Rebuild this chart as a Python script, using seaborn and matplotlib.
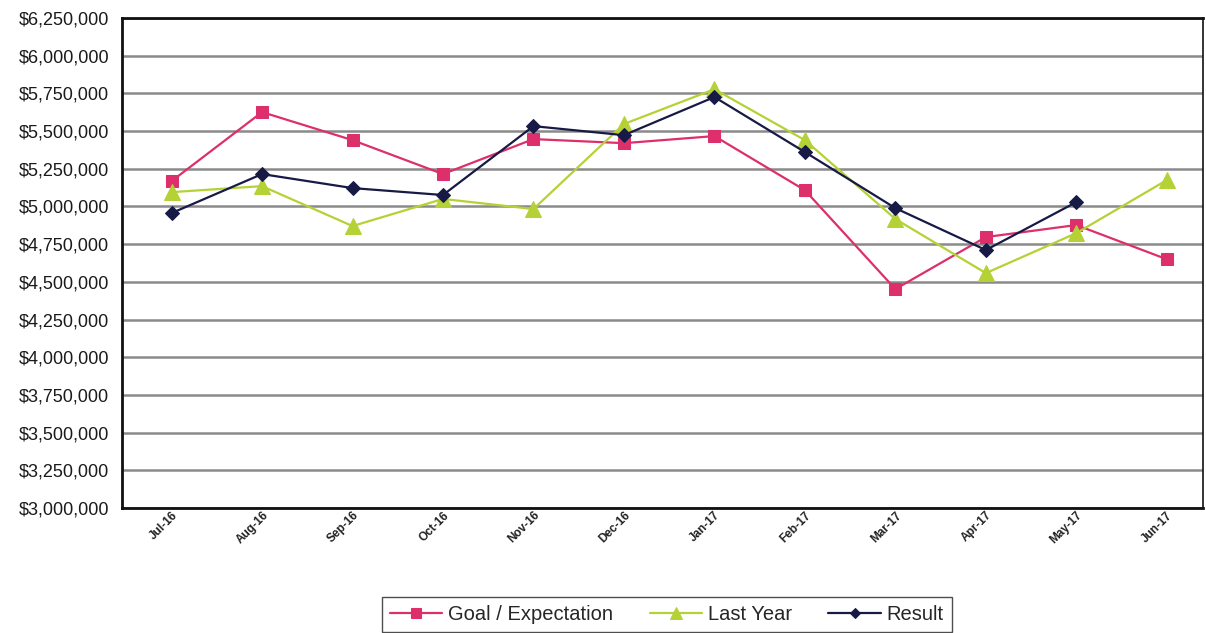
import pandas as pd
import numpy as np
import seaborn as sns
import matplotlib.pyplot as plt
import matplotlib.transforms as mtransforms
from matplotlib.ticker import FuncFormatter, MultipleLocator, FixedLocator

# chart values
months = ['Jul-16', 'Aug-16', 'Sep-16', 'Oct-16', 'Nov-16', 'Dec-16',
          'Jan-17', 'Feb-17', 'Mar-17', 'Apr-17', 'May-17', 'Jun-17']
goal = [5168000, 5626000, 5440000, 5215000, 5447000, 5420000,
        5467000, 5108000, 4452000, 4797000, 4877000, 4650000]
last_year = [5095000, 5135000, 4870000, 5050000, 4983000, 5547000,
             5778000, 5440000, 4917000, 4558000, 4823000, 5175000]
result = [4956000, 5215000, 5122000, 5076000, 5533000, 5473000,
          5726000, 5361000, 4989000, 4711000, 5029000, np.nan]

series = ['Goal / Expectation', 'Last Year', 'Result']
colors = ['#DC2F6B', '#B4D235', '#161A45']
markers = ['s', '^', 'D']
msizes = [9, 11, 7]

df = pd.DataFrame({'Month': months, series[0]: goal, series[1]: last_year, series[2]: result})
long_df = df.melt(id_vars='Month', var_name='Series', value_name='Value').dropna()
long_df['x'] = long_df['Month'].map({m: i for i, m in enumerate(months)})

sns.set_style('white')
plt.rcParams['font.family'] = ['Liberation Sans', 'DejaVu Sans']

fig = plt.figure(figsize=(12.06, 6.33), dpi=100)
ax = fig.add_axes([0.101, 0.1975, 0.8965, 0.774])

for name, c, m, ms in zip(series, colors, markers, msizes):
    sub = long_df[long_df['Series'] == name]
    sns.lineplot(data=sub, x='x', y='Value', ax=ax, color=c, marker=m,
                 markersize=ms, markeredgecolor=c, linewidth=1.6, label=name,
                 sort=False)

ax.set_xlim(-0.55, 11.4)
ax.set_ylim(3000000, 6250000)
ax.yaxis.set_major_locator(MultipleLocator(250000))
ax.yaxis.set_major_formatter(FuncFormatter(lambda v, p: '${:,.0f}'.format(v)))
ax.set_xticks(range(len(months)))
ax.set_xticklabels(months, rotation=45, ha='right', rotation_mode='anchor',
                   fontsize=8.5, fontweight='bold', color='#222222')
shift = mtransforms.ScaledTranslation(-0.07, 0, fig.dpi_scale_trans)
for lbl in ax.get_xticklabels():
    lbl.set_transform(lbl.get_transform() + shift)
ax.xaxis.set_minor_locator(FixedLocator(np.arange(-0.5, 11.5, 1)))
ax.tick_params(axis='x', which='major', length=0, pad=1)
ax.tick_params(axis='x', which='minor', length=4, width=1, color='#333333', direction='out')
ax.tick_params(axis='y', length=5, width=1, color='#333333', direction='out',
               labelsize=13, pad=4, labelcolor='#1a1a1a')
ax.set_xlabel('')
ax.set_ylabel('')

ax.grid(axis='y', color='#8a8a8a', linewidth=1.8)
ax.set_axisbelow(True)
for side in ['left', 'bottom', 'top', 'right']:
    ax.spines[side].set_visible(True)
    ax.spines[side].set_color('#111111')
ax.spines['left'].set_linewidth(2)
ax.spines['bottom'].set_linewidth(2)
ax.spines['top'].set_linewidth(2)
ax.spines['right'].set_linewidth(1.2)

ax.legend_.remove()
handles, labels = ax.get_legend_handles_labels()
fig.legend(handles, labels, loc='upper center', bbox_to_anchor=(0.553, 0.073),
           ncol=3, fontsize=14.5, frameon=True, fancybox=False, edgecolor='#222222',
           handlelength=2.6, handletextpad=0.3, columnspacing=1.8, borderpad=0.4,
           markerscale=0.8)

fig.savefig('out.png', dpi=100)
